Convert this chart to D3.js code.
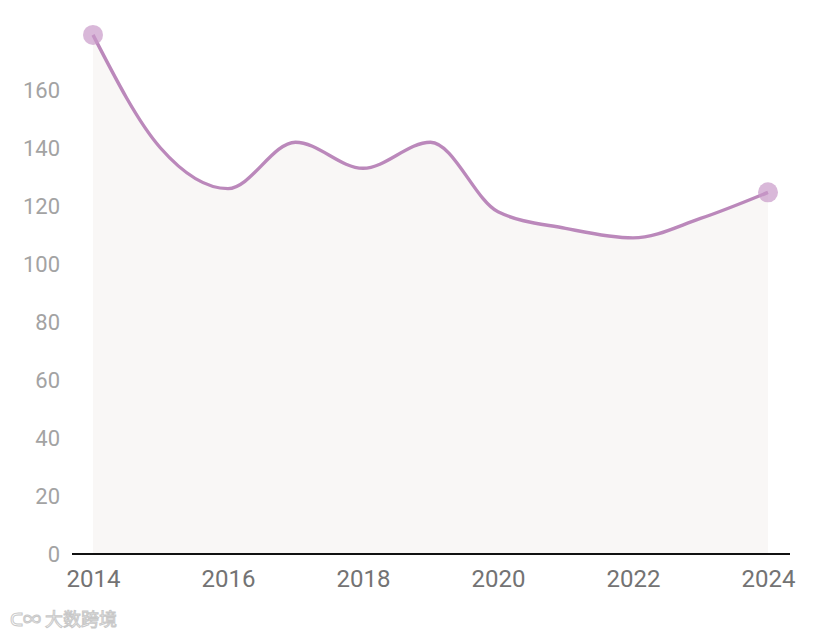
<!DOCTYPE html>
<html><head><meta charset="utf-8">
<script src="https://cdn.jsdelivr.net/npm/d3@7"></script>
<style>body{margin:0;background:#fff;}svg{display:block;font-family:Roboto,"Noto Sans",sans-serif;}</style>
</head><body>
<svg id="c" width="816" height="635"></svg>
<script>
const years = [2014,2015,2016,2017,2018,2019,2020,2021,2022,2023,2024];
const values = [179,140,126,142,133,142,118,112.3,109,115.7,124.7];
const yTicks = [0,20,40,60,80,100,120,140,160];
const xTicks = [2014,2016,2018,2020,2022,2024];

const svg = d3.select("#c");
const x = d3.scaleLinear().domain([2014,2024]).range([93,768]);
const y = d3.scaleLinear().domain([0,180]).range([554,32]);
const data = years.map((yr,i)=>({yr, v: values[i]}));

svg.append("path").datum(data)
  .attr("fill","#f9f7f6")
  .attr("d", d3.area().x(d=>x(d.yr)).y0(y(0)).y1(d=>y(d.v)).curve(d3.curveMonotoneX));

svg.append("path").datum(data)
  .attr("fill","none").attr("stroke","#bb88bb").attr("stroke-width",3.4)
  .attr("d", d3.line().x(d=>x(d.yr)).y(d=>y(d.v)).curve(d3.curveMonotoneX));

svg.selectAll("circle.end").data([data[0], data[data.length-1]]).enter().append("circle")
  .attr("cx",d=>x(d.yr)).attr("cy",d=>y(d.v)).attr("r",10)
  .attr("fill","#c99ac9").attr("fill-opacity",0.7);

// y axis labels
const ya = svg.append("g").attr("transform","translate(60,0)")
  .call(d3.axisLeft(y).tickValues(yTicks).tickSize(0).tickPadding(0));
ya.select(".domain").remove();
ya.selectAll("text").attr("fill","#a3a3a3").attr("font-size",22).attr("font-family","Roboto");

// x axis
const xa = svg.append("g").attr("transform","translate(0,554)")
  .call(d3.axisBottom(x).tickValues(xTicks).tickFormat(d3.format("d")).tickSize(0).tickPadding(16));
xa.select(".domain").remove();
xa.selectAll("text").attr("fill","#737373").attr("font-size",24).attr("font-family","Roboto");
svg.append("line").attr("x1",72).attr("x2",790).attr("y1",y(0)).attr("y2",y(0))
  .attr("stroke","#111").attr("stroke-width",2);

// watermark
svg.append("text").attr("x",10).attr("y",626).attr("font-size",18)
  .attr("fill","#fff").attr("stroke","#c8c8c8").attr("stroke-width",1)
  .attr("font-family","Noto Sans CJK SC").text("ᑕ∞ 大数跨境");
</script>
</body></html>
